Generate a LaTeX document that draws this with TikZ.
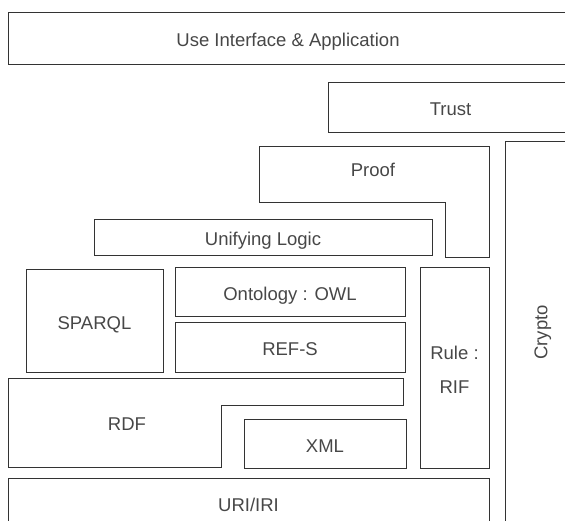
\documentclass[tikz,border=0pt]{standalone}
\usepackage{fontspec}
\setmainfont{Liberation Sans}
\tikzset{
  txt/.style={text=black!72, font=\fontsize{18.5}{22}\selectfont, inner sep=0pt, text height=17pt, text depth=0pt},
  lay/.style={txt, draw=black!80, line width=1pt, rectangle, outer sep=0pt},
  layline/.style={draw=black!80, line width=1pt, line join=miter}
}
\begin{document}
\begin{tikzpicture}[x=1pt,y=-1pt]
\useasboundingbox (0,0) rectangle (565,520);
\clip (0,0) rectangle (565,520);
% top layers
\node[lay, anchor=north west, minimum width=560pt, minimum height=52pt] (ui) at (8,12) {Use Interface \& Application};
\node[lay, anchor=north west, minimum width=245pt, minimum height=50pt] (trust) at (328,82) {Trust};
% Proof (L-shape)
\draw[layline] (259,146) -- (489,146) -- (489,257) -- (445,257) -- (445,202) -- (259,202) -- cycle;
\node[txt] (proof) at (373,168) {Proof};
% Crypto
\node[lay, rotate=90, minimum width=383pt, minimum height=72pt, text height=12.6pt] (crypto) at (541,332.5) {Crypto};
% Unifying Logic
\node[lay, anchor=north west, minimum width=338pt, minimum height=36pt] (logic) at (94,219) {Unifying Logic};
% SPARQL, Ontology, REF-S
\node[lay, anchor=north west, minimum width=137pt, minimum height=103pt] (sparql) at (26,269) {SPARQL};
\node[lay, anchor=north west, minimum width=230pt, minimum height=49pt] (owl) at (175,267) {Ontology : OWL};
\node[lay, anchor=north west, minimum width=230pt, minimum height=50pt] (rdfs) at (175,322) {REF-S};
% Rule : RIF
\node[lay, anchor=north west, minimum width=69pt, minimum height=201pt] (rule) at (420,267) {};
\node[txt] (rulet) at (454.5,351) {Rule :};
\node[txt] (rift) at (454.5,385) {RIF};
% RDF (L-shape)
\draw[layline] (8,378) -- (403,378) -- (403,405) -- (221,405) -- (221,467) -- (8,467) -- cycle;
\node[txt] (rdf) at (127,422) {RDF};
% XML
\node[lay, anchor=north west, minimum width=162pt, minimum height=49pt] (xml) at (244,419) {XML};
% URI/IRI
\node[lay, anchor=north west, minimum width=481pt, minimum height=50pt] (uri) at (8,478) {URI/IRI};
\end{tikzpicture}
\end{document}
